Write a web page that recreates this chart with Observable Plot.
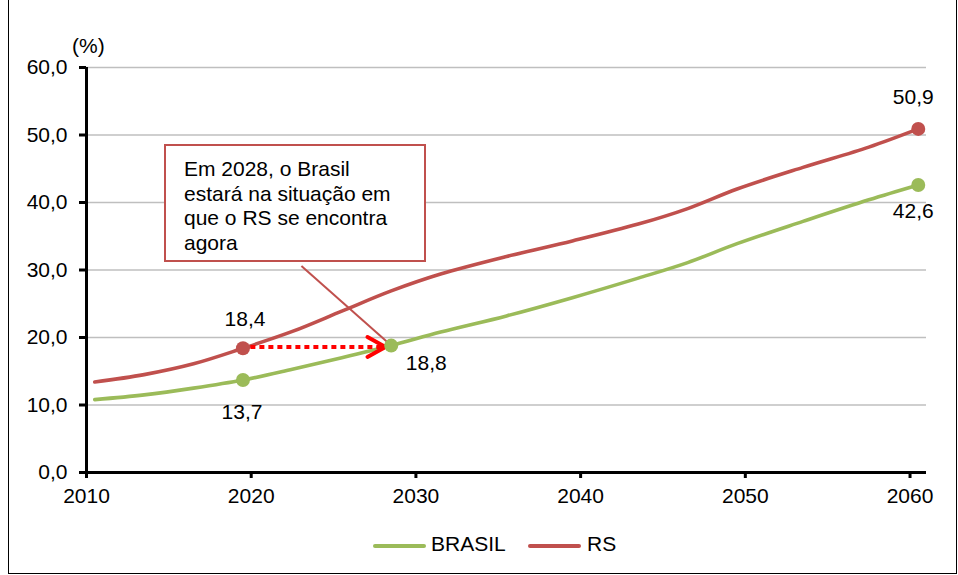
<!DOCTYPE html>
<html><head><meta charset="utf-8">
<script src="https://cdn.jsdelivr.net/npm/d3@7"></script>
<script src="https://cdn.jsdelivr.net/npm/@observablehq/plot@0.6"></script>
<style>
body{margin:0;background:#fff;font-family:"Liberation Sans",Arial,sans-serif;color:#000;}
#wrap{position:relative;width:958px;height:575px;overflow:hidden;}
#wrap svg{position:absolute;left:0;top:0;}
#frame{position:absolute;left:8px;top:-1px;width:947px;height:573px;border:1px solid #000;pointer-events:none;}
#unit{position:absolute;left:72px;top:34px;font-size:21px;line-height:24px;}
#note{position:absolute;left:164px;top:144px;width:262px;height:118px;box-sizing:border-box;border:2px solid #C0504D;background:#fff;padding:11px 0 0 18px;font-size:21px;line-height:24.5px;white-space:nowrap;}
.lg-line{position:absolute;height:4px;border-radius:2px;top:544px;}
.lg-text{position:absolute;top:532px;font-size:21px;line-height:24px;}
</style></head><body>
<div id="wrap"></div>
<script>
// ---- data ----
const years  = [2010, 2013, 2016, 2019, 2022, 2025, 2028, 2031, 2035, 2039, 2043, 2046, 2049, 2053, 2057, 2060];
const brasil = [10.8, 11.5, 12.5, 13.7, 15.3, 17.0, 18.8, 20.8, 23.2, 25.9, 28.8, 31.1, 33.9, 37.2, 40.4, 42.6];
const rs     = [13.4, 14.5, 16.1, 18.4, 20.9, 23.9, 26.9, 29.4, 32.0, 34.3, 36.8, 39.1, 42.0, 45.2, 48.2, 50.9];
const seriesNames  = ["BRASIL", "RS"];
const seriesColors = ["#9BBB59", "#C0504D"];
const yTicks = [0, 10, 20, 30, 40, 50, 60];
const xTicks = [2010, 2020, 2030, 2040, 2050, 2060];
const nowYear = 2019;
const catchYear = 2028;
const endYear = 2060;
const unitLabel = "(%)";
const noteLines = ["Em 2028, o Brasil", "estará na situação em", "que o RS se encontra", "agora"];

// ---- build ----
const data = years.flatMap((y, i) => [
  {year: y, value: brasil[i], series: "BRASIL"},
  {year: y, value: rs[i], series: "RS"}
]);
const at = (series, y) => data.find(d => d.series === series && d.year === y);
const fmt = v => v.toFixed(1).replace(".", ",");
const X = d => d.year + 0.5;

const pBRnow = at("BRASIL", nowYear), pRSnow = at("RS", nowYear);
const pBRcatch = at("BRASIL", catchYear);
const pBRend = at("BRASIL", endYear), pRSend = at("RS", endYear);
const dots = [pRSnow, pBRnow, pBRcatch, pRSend, pBRend];
const arrowData = [{from: nowYear, to: catchYear, value: (pRSnow.value + pBRcatch.value) / 2}];
const calloutData = [{target: pBRcatch}];

const labelMark = (d, dx, dy) => Plot.text([d], {
  x: X, y: "value", text: v => fmt(v.value), dx, dy,
  fill: "#000", fontSize: 21, lineAnchor: "middle", textAnchor: "middle"
});

const chart = Plot.plot({
  width: 958, height: 575,
  marginLeft: 86, marginRight: 32, marginTop: 67, marginBottom: 103,
  style: {fontFamily: "Liberation Sans, Arial, sans-serif", fontSize: "21px", color: "#000", background: "transparent", overflow: "visible"},
  x: {domain: [2010, 2061]},
  y: {domain: [0, 60]},
  color: {domain: seriesNames, range: seriesColors},
  marks: [
    Plot.gridY(yTicks.slice(1), {stroke: "#bfbfbf", strokeOpacity: 1, strokeWidth: 1.5}),
    Plot.axisY(yTicks, {tickSize: 7, tickPadding: 12, strokeWidth: 3, tickFormat: fmt, label: null, fontSize: 21}),
    Plot.axisX(xTicks, {tickSize: 6, tickPadding: 10, strokeWidth: 3, tickFormat: d => String(d), label: null, fontSize: 21}),
    Plot.ruleX([2010], {stroke: "#000", strokeWidth: 3}),
    Plot.ruleY([0], {stroke: "#000", strokeWidth: 3}),
    Plot.line(data, {x: X, y: "value", z: "series", stroke: "series", strokeWidth: 3.6, curve: "catmull-rom", strokeLinecap: "round"}),
    Plot.link(calloutData, {x1: 2023.05, y1: 30.6, x2: d => X(d.target), y2: d => d.target.value, stroke: "#C0504D", strokeWidth: 2}),
    Plot.link(arrowData, {x1: d => d.from + 0.95, x2: d => d.to - 0.1, y1: "value", y2: "value", stroke: "#FF0000", strokeWidth: 4, strokeDasharray: "5,4"}),
    Plot.arrow(arrowData, {x1: d => d.from + 0.95, x2: d => d.to + 0.15, y1: "value", y2: "value", stroke: "#FF0000", strokeWidth: 4, headLength: 7.7, headAngle: 58, insetStart: 128}),
    Plot.dot(dots, {x: X, y: "value", fill: "series", r: 7, stroke: "none"}),
    labelMark(pRSnow, 2, -29),
    labelMark(pBRnow, -1, 32),
    labelMark(pBRcatch, 35, 18),
    labelMark(pRSend, -5, -32),
    labelMark(pBRend, -5, 26)
  ]
});

const wrap = document.getElementById("wrap");
wrap.appendChild(chart);

const unit = document.createElement("div");
unit.id = "unit"; unit.textContent = unitLabel; wrap.appendChild(unit);

const note = document.createElement("div");
note.id = "note";
noteLines.forEach((t, i) => { if (i) note.appendChild(document.createElement("br")); note.appendChild(document.createTextNode(t)); });
wrap.appendChild(note);

// legend
const lgPos = [{line: 373, w: 53, text: 431}, {line: 528, w: 53, text: 587}];
seriesNames.forEach((s, i) => {
  const l = document.createElement("div");
  l.className = "lg-line";
  l.style.left = lgPos[i].line + "px"; l.style.width = lgPos[i].w + "px";
  l.style.background = seriesColors[i];
  wrap.appendChild(l);
  const t = document.createElement("div");
  t.className = "lg-text"; t.style.left = lgPos[i].text + "px"; t.textContent = s;
  wrap.appendChild(t);
});

const frame = document.createElement("div");
frame.id = "frame"; wrap.appendChild(frame);
</script>
</body></html>
